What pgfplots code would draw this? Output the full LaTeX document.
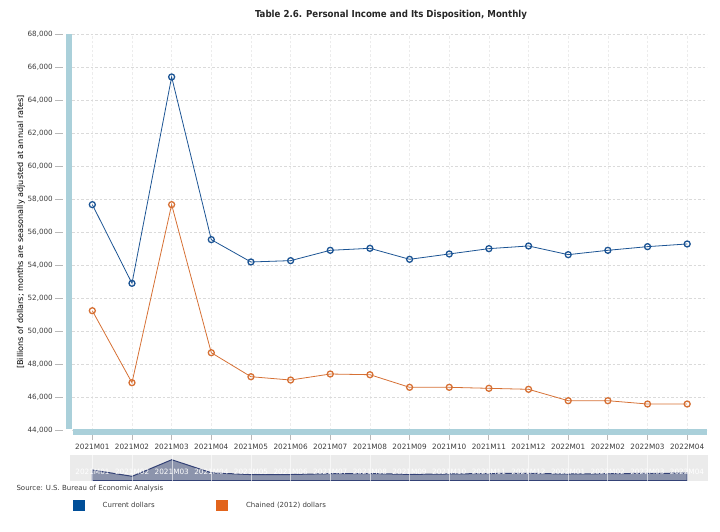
\documentclass[border=0pt]{standalone}
\usepackage{pgfplots}
\usepackage{pgfplotstable}
\pgfplotsset{compat=1.18}
\usepackage{fontspec}
\setmainfont{DejaVu Sans}
\newfontfamily\condfont{DejaVu Sans Condensed}

\definecolor{curblue}{RGB}{28,84,148}
\definecolor{chorange}{RGB}{214,112,52}
\definecolor{legblue}{RGB}{0,78,152}
\definecolor{legorange}{RGB}{226,100,28}
\definecolor{barblue}{RGB}{170,208,218}
\definecolor{gridgray}{RGB}{218,218,218}
\definecolor{vgrid}{RGB}{236,236,236}
\definecolor{tickgray}{RGB}{185,185,185}
\definecolor{navbg}{RGB}{235,235,235}
\definecolor{navfill}{RGB}{140,148,172}
\definecolor{navline}{RGB}{52,66,118}
\definecolor{labgray}{RGB}{60,60,60}

% Disposable personal income per capita, current and chained (2012) dollars
\pgfplotstableread{
idx cur   chained
0   57677 51248
1   52909 46885
2   65414 57677
3   55556 48703
4   54202 47248
5   54283 47048
6   54909 47412
7   55030 47370
8   54364 46606
9   54687 46606
10  55010 46545
11  55172 46485
12  54646 45794
13  54909 45794
14  55131 45594
15  55293 45594
}\incometable

\def\monthlabels{2021M01,2021M02,2021M03,2021M04,2021M05,2021M06,2021M07,2021M08,2021M09,2021M10,2021M11,2021M12,2022M01,2022M02,2022M03,2022M04}

\begin{document}
\begin{tikzpicture}[x=1pt,y=1pt]
\path[use as bounding box] (0,0) rectangle (720,-531);

\node[font=\condfont\bfseries\fontsize{9.6}{11}\selectfont, text=black!85] at (391,-15)
  {Table 2.6. Personal Income and Its Disposition, Monthly};
\node[rotate=90, font=\fontsize{8.1}{9}\selectfont, text=black] at (21,-232)
  {[Billions of dollars; months are seasonally adjusted at annual rates]};
\node[anchor=west, font=\fontsize{7}{8}\selectfont, text=labgray] at (13,-489)
  {Source: U.S. Bureau of Economic Analysis};

\begin{axis}[
  name=main,
  at={(72.5pt,-430.3pt)}, anchor=south west,
  scale only axis, width=634.5pt, height=396pt,
  xmin=-0.5, xmax=15.5, ymin=44000, ymax=68000,
  clip=false,
  axis line style={draw=none},
  major tick length=0pt,
  xtick={0,...,15},
  xticklabels/.expand once=\monthlabels,
  ytick distance=2000,
  scaled y ticks=false,
  /pgf/number format/1000 sep={,},
  /pgf/number format/assume math mode=true,
  xticklabel style={anchor=base, yshift=-19.3pt, font=\fontsize{7.3}{8}\selectfont, text=labgray},
  yticklabel style={anchor=east, inner sep=0pt, xshift=-19.5pt, font=\fontsize{7.2}{8}\selectfont, text=labgray},
  xmajorgrids, ymajorgrids,
  x grid style={vgrid, dash pattern=on 2.5pt off 2pt, line width=0.5pt},
  y grid style={gridgray, dash pattern=on 2.5pt off 2pt, line width=0.5pt},
  legend columns=2,
  legend style={at={(axis description cs:0,0)}, anchor=north west,
    xshift=0.2pt, yshift=-69pt, draw=none, fill=none, inner sep=0pt,
    font=\fontsize{7}{8}\selectfont, text=labgray,
    /tikz/every even column/.append style={column sep=59.6pt}},
  legend cell align=left,
]
% frame bars on the left and at the bottom
\fill[barblue] ([xshift=-6.5pt, yshift=1pt]rel axis cs:0,0) rectangle (rel axis cs:0,1);
\fill[barblue] ([xshift=0.8pt, yshift=1pt]rel axis cs:0,0) rectangle ([yshift=-5pt]rel axis cs:1,0);
\pgfplotsinvokeforeach{44000,46000,48000,50000,52000,54000,56000,58000,60000,62000,64000,66000,68000}{
  \draw[tickgray, line width=0.8pt] ([xshift=-17.5pt]axis cs:-0.5,#1) -- ([xshift=-9.5pt]axis cs:-0.5,#1);
}
\pgfplotsinvokeforeach{0,...,15}{
  \draw[tickgray, line width=0.8pt] ([yshift=-5pt]axis cs:#1,44000) -- ([yshift=-9.7pt]axis cs:#1,44000);
}

\addplot[curblue, line width=0.8pt, mark=o, mark size=3pt,
  mark options={line width=1.3pt, fill=white, draw=curblue},
  legend image code/.code={\fill[legblue] (0pt,-5.3pt) rectangle (10.6pt,5.3pt); \path (27pt,0pt);}]
  table[x=idx, y=cur]{\incometable};
\addlegendentry{Current dollars}

\addplot[chorange, line width=0.8pt, mark=o, mark size=3pt,
  mark options={line width=1.3pt, fill=white, draw=chorange},
  legend image code/.code={\fill[legorange] (0pt,-5.3pt) rectangle (10.6pt,5.3pt); \path (27pt,0pt);}]
  table[x=idx, y=chained]{\incometable};
\addlegendentry{Chained (2012) dollars}
\end{axis}

% range navigator beneath the main plot
\begin{axis}[
  at={(70.3pt,-480.7pt)}, anchor=south west,
  scale only axis, width=637.7pt, height=26pt,
  xmin=-0.56, xmax=15.53, ymin=49600, ymax=69200,
  axis on top,
  axis background/.style={fill=navbg},
  axis line style={draw=none},
  major tick length=0pt,
  ytick=\empty,
  xtick={0,...,15},
  xticklabels/.expand once=\monthlabels,
  xticklabel style={anchor=base, yshift=5.8pt, font=\fontsize{7.3}{8}\selectfont, text=white},
  xmajorgrids,
  x grid style={white, opacity=0.6, line width=0.5pt},
]
\addplot[fill=navfill, draw=navline, line width=1pt]
  table[x=idx, y=cur]{\incometable} \closedcycle;
\end{axis}
\end{tikzpicture}
\end{document}
